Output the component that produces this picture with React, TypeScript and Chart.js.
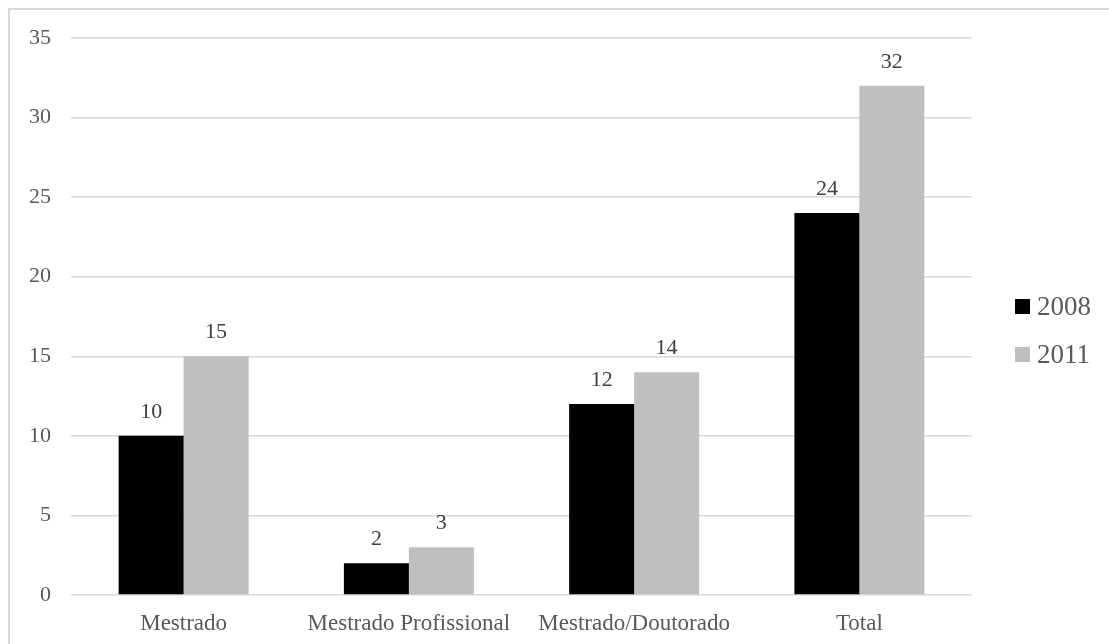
import React, { useEffect, useRef } from "react";
import { Chart, registerables } from "chart.js";

Chart.register(...registerables);

const categories = ["Mestrado", "Mestrado Profissional", "Mestrado/Doutorado", "Total"];
const series2008 = [10, 2, 12, 24];
const series2011 = [15, 3, 14, 32];
const seriesNames = ["2008", "2011"];
const seriesColors = ["#000000", "#bfbfbf"];
const yMax = 35;
const yStep = 5;

const FONT = '"Liberation Serif", "Times New Roman", Times, serif';

const valueLabels = {
  id: "valueLabels",
  afterDatasetsDraw(chart: any) {
    const ctx = chart.ctx;
    ctx.save();
    ctx.font = `22px ${FONT}`;
    ctx.fillStyle = "#404040";
    ctx.textAlign = "center";
    ctx.textBaseline = "middle";
    chart.data.datasets.forEach((ds: any, i: number) => {
      const meta = chart.getDatasetMeta(i);
      meta.data.forEach((bar: any, j: number) => {
        ctx.fillText(String(ds.data[j]), bar.x, bar.y - 24);
      });
    });
    ctx.restore();
  },
};

const sideLegend = {
  id: "sideLegend",
  afterDraw(chart: any) {
    const ctx = chart.ctx;
    const area = chart.chartArea;
    ctx.save();
    ctx.font = `27px ${FONT}`;
    ctx.textBaseline = "middle";
    ctx.textAlign = "left";
    chart.data.datasets.forEach((ds: any, i: number) => {
      const cy = area.top + 269 + i * 48;
      const x = area.right + 43;
      ctx.fillStyle = ds.backgroundColor;
      ctx.fillRect(x, cy - 8, 15, 15);
      ctx.fillStyle = "#595959";
      ctx.fillText(ds.label, x + 22, cy + 1);
    });
    ctx.restore();
  },
};

export default function App() {
  const canvasRef = useRef<HTMLCanvasElement | null>(null);

  useEffect(() => {
    document.body.style.overflow = "hidden";
    const canvas = canvasRef.current;
    if (!canvas) return;
    const chart = new Chart(canvas, {
      type: "bar",
      data: {
        labels: categories,
        datasets: [
          {
            label: seriesNames[0],
            data: series2008,
            backgroundColor: seriesColors[0],
            categoryPercentage: 0.577,
            barPercentage: 1,
          },
          {
            label: seriesNames[1],
            data: series2011,
            backgroundColor: seriesColors[1],
            categoryPercentage: 0.577,
            barPercentage: 1,
          },
        ],
      },
      options: {
        responsive: false,
        animation: false,
        devicePixelRatio: 1,
        layout: { padding: { top: 28, right: 137, bottom: 0, left: 0 } },
        plugins: {
          legend: { display: false },
          tooltip: { enabled: false },
        },
        scales: {
          x: {
            grid: { display: false, drawTicks: false },
            border: { display: false },
            ticks: {
              color: "#595959",
              font: { family: FONT, size: 23 },
              padding: 15,
              maxRotation: 0,
              autoSkip: false,
            },
            afterFit(scale: any) {
              scale.height = 49;
            },
          },
          y: {
            min: 0,
            max: yMax,
            grid: { color: "#d9d9d9", lineWidth: 1.5, drawTicks: false },
            border: { display: false },
            ticks: {
              stepSize: yStep,
              color: "#595959",
              font: { family: FONT, size: 22 },
              padding: 20,
            },
            afterFit(scale: any) {
              scale.width = 61;
              scale.paddingTop = 0;
              scale.paddingBottom = 0;
            },
          },
        },
      },
      plugins: [valueLabels, sideLegend],
    });
    return () => chart.destroy();
  }, []);

  return (
    <div
      style={{
        position: "absolute",
        left: 8,
        top: 8,
        width: 1101,
        height: 636,
        boxSizing: "border-box",
        borderTop: "2px solid #d9d9d9",
        borderLeft: "2px solid #d9d9d9",
        background: "#ffffff",
      }}
    >
      <canvas ref={canvasRef} width={1099} height={634} style={{ display: "block" }} />
    </div>
  );
}
